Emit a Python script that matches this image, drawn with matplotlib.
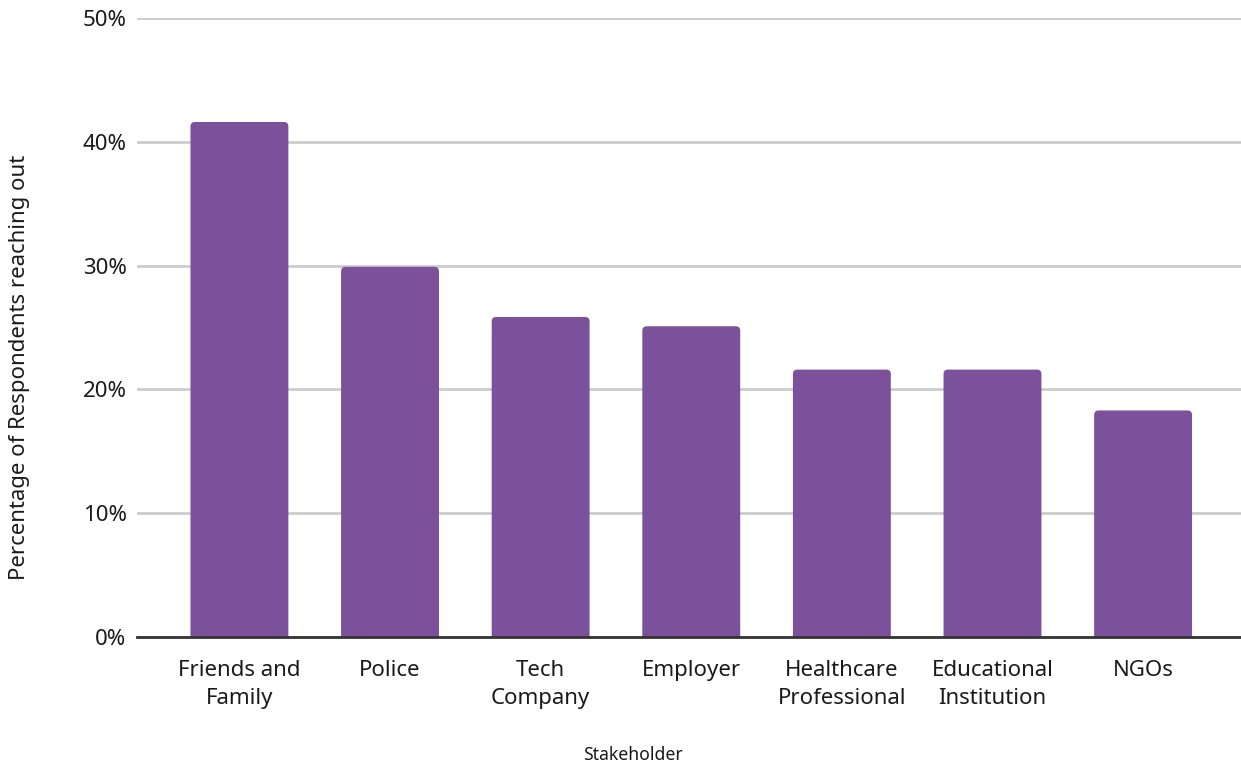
import matplotlib
matplotlib.use("Agg")
import matplotlib.pyplot as plt
from matplotlib.patches import FancyBboxPatch
from matplotlib.ticker import FuncFormatter

categories = ["Friends and\nFamily", "Police", "Tech\nCompany", "Employer",
              "Healthcare\nProfessional", "Educational\nInstitution", "NGOs"]
values = [41.6, 29.9, 25.85, 25.1, 21.6, 21.6, 18.3]
y_ticks = [0, 10, 20, 30, 40, 50]

BAR_COLOR = "#7B519C"
GRID_COLOR = "#CCCCCC"
TEXT_COLOR = "#1A1A1A"

plt.rcParams["font.family"] = ["Noto Sans", "DejaVu Sans"]

W, H = 1241, 765
fig = plt.figure(figsize=(W / 100, H / 100), dpi=100)
ax = fig.add_axes([137 / W, 1 - 637 / H, (W - 137) / W, (637 - 18) / H])

x = list(range(len(categories)))
width = 0.65
ax.set_xlim(-0.68, 6.65)
ax.set_ylim(0, 50)

# Bars with slightly rounded top corners (bottom corners are clipped at 0)
for xi, v in zip(x, values):
    patch = FancyBboxPatch((xi - width / 2, -2), width, v + 2,
                           boxstyle="round,pad=0,rounding_size=0.03",
                           mutation_aspect=12.0,
                           facecolor=BAR_COLOR, edgecolor="none", zorder=3,
                           clip_on=True)
    ax.add_patch(patch)

ax.set_yticks(y_ticks)
ax.yaxis.set_major_formatter(FuncFormatter(lambda v, _: f"{int(v)}%"))
ax.set_xticks(x)
ax.set_xticklabels(categories, fontsize=16, color=TEXT_COLOR, linespacing=1.45)
ax.tick_params(axis="y", labelsize=16, colors=TEXT_COLOR, length=0, pad=7.5)
ax.tick_params(axis="x", length=0, pad=16.5)

ax.grid(axis="y", color=GRID_COLOR, linewidth=2, zorder=0)
ax.set_axisbelow(True)
for side in ["top", "right", "left"]:
    ax.spines[side].set_visible(False)
ax.spines["bottom"].set_color("#333333")
ax.spines["bottom"].set_linewidth(2)
ax.spines["bottom"].set_zorder(4)

fig.text(633 / W, 1 - 755 / H, "Stakeholder", fontsize=12.7, color=TEXT_COLOR,
         ha="center", va="center")
fig.text(20 / W, 1 - 367 / H, "Percentage of Respondents reaching out",
         fontsize=16, color=TEXT_COLOR, rotation=90, ha="center", va="center")

fig.savefig("out.png", dpi=100, facecolor="white")
